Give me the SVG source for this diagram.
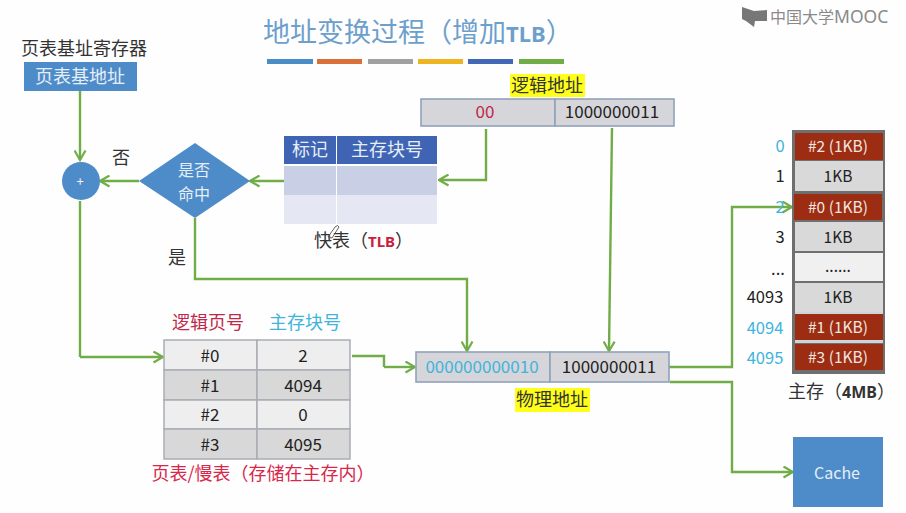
<svg xmlns="http://www.w3.org/2000/svg" width="906" height="513" viewBox="0 0 906 513">
<defs>
<marker id="arr" viewBox="0 0 13 13" refX="11.5" refY="6.5" markerWidth="13" markerHeight="13" markerUnits="userSpaceOnUse" orient="auto"><path d="M2 1 L11.5 6.5 L2 12" fill="none" stroke="#70ad47" stroke-width="2.2"/></marker>
</defs>
<style>
text{font-family:"Noto Sans CJK SC","Noto Sans","Liberation Sans",sans-serif;text-anchor:middle;fill:#222}
.cn{font-size:18px;font-family:"Noto Sans CJK SC",sans-serif;fill:#333}
.c{font-size:17px}
.m{font-size:15.5px}
.n{font-size:16.5px}
.red{fill:#c0274a}
.blue{fill:#3fb4dc}
.lt{fill:#e6eef7}
.wh{fill:#f2e6e0}
.conn{fill:none;stroke:#70ad47;stroke-width:2.4}
.a{marker-end:url(#arr)}
.cell{stroke:#a9adb4;stroke-width:1.5}
.addr{fill:#d5d5da;stroke:#8fa2bb;stroke-width:1.6}
.mem{fill:#d9d9d9}
.hit{fill:#9c2d12}
.bar{height:5px}
</style>
<rect width="906" height="513" fill="#fefefe"/>
<g id="title">
<text x="263" y="42" style="text-anchor:start;font-size:27px;fill:#6d9fcc">地址变换过程（增加<tspan font-weight="700" font-size="22" font-family="Noto Sans">TLB</tspan>）</text>
<rect class="bar" x="267" y="59" width="46" fill="#4a8cc5"/>
<rect class="bar" x="317" y="59" width="45" fill="#d9703a"/>
<rect class="bar" x="368" y="59" width="45" fill="#a0a0a0"/>
<rect class="bar" x="418" y="59" width="45" fill="#eeb422"/>
<rect class="bar" x="468" y="59" width="45" fill="#4468b8"/>
<rect class="bar" x="519" y="59" width="45" fill="#70ad47"/>
</g>
<g id="logo">
<path d="M742 7 L754 11 L767 10 L767 21 L755 21 L754 27 L746 21 L742 19 Z" fill="#777"/>
<text x="770" y="23" style="text-anchor:start;font-size:16px;fill:#8a8a8a">中国大学<tspan font-size="17.5" font-family="Noto Sans">MOOC</tspan></text>
</g>
<g id="connectors">
<path class="conn a" d="M80 91 V160"/>
<path class="conn" d="M80 201 V357"/>
<path class="conn a" d="M80 357 H163"/>
<path class="conn a" d="M139 181 H100"/>
<path class="conn a" d="M285 181 H250"/>
<path class="conn a" d="M486 129 V180 H439"/>
<path class="conn a" d="M195 218 V279 H467 V351"/>
<path class="conn a" d="M612 128 L609 351"/>
<path class="conn" d="M352 356 H384 V367"/>
<path class="conn a" d="M384 367 H415"/>
<path class="conn a" d="M669 367 H732 V207 H792"/>
<path class="conn a" d="M670 382 H732 V472 H793"/>
</g>
<g id="base-register">
<text class="cn" x="84" y="55">页表基址寄存器</text>
<rect x="24" y="62" width="113" height="29" fill="#4e8cc9"/>
<text class="cn lt" x="80" y="83">页表基地址</text>
</g>
<g id="adder">
<circle cx="81" cy="181" r="19" fill="#4e8cc9"/>
<text x="80" y="186" style="font-size:13px;fill:#f2f2f2">+</text>
</g>
<g id="hit-decision">
<path d="M139 181 L195 143 L250 181 L195 218 Z" fill="#4e8cc9"/>
<text class="cn lt" x="194" y="176" style="font-size:16px">是否</text>
<text class="cn lt" x="194" y="199.5" style="font-size:16px">命中</text>
<text class="cn" x="121" y="164">否</text>
<text class="cn" x="177" y="264">是</text>
</g>
<g id="tlb">
<rect x="284" y="136" width="52" height="28" fill="#3f64b4"/>
<rect x="337" y="136" width="100" height="28" fill="#3f64b4"/>
<text class="cn lt" x="310" y="156">标记</text>
<text class="cn lt" x="387" y="156">主存块号</text>
<rect x="284" y="166" width="52" height="29" fill="#c9cfe4"/>
<rect x="337" y="166" width="100" height="29" fill="#c9cfe4"/>
<rect x="284" y="195" width="52" height="29" fill="#e5e8f3"/>
<rect x="337" y="195" width="100" height="29" fill="#e5e8f3"/>
<text class="cn" x="314" y="247" style="text-anchor:start">快表（<tspan font-size="15" font-weight="700" fill="#c8203c" font-family="Noto Sans">TLB</tspan>）</text>
<path d="M328 237 L335 227 Q338 224 339 227 L332 238 Z" fill="none" stroke="#555" stroke-width="0.9"/>
</g>
<g id="logical-address">
<rect x="510" y="74" width="75" height="23" fill="#ffff1a"/>
<text class="cn" x="547" y="92">逻辑地址</text>
<rect class="addr" x="421" y="99" width="134" height="27"/>
<rect class="addr" x="555" y="99" width="119" height="27"/>
<text class="c red" x="485" y="118">00</text>
<text class="c" x="612" y="118">1000000011</text>
</g>
<g id="page-table">
<text class="cn red" x="208" y="329">逻辑页号</text>
<text class="cn blue" x="305" y="329">主存块号</text>
<rect class="cell" x="164" y="340" width="93" height="30" fill="#eeeeef"/>
<rect class="cell" x="257" y="340" width="93" height="30" fill="#eeeeef"/>
<rect class="cell" x="164" y="370" width="93" height="30" fill="#d8d8d8"/>
<rect class="cell" x="257" y="370" width="93" height="30" fill="#d8d8d8"/>
<rect class="cell" x="164" y="400" width="93" height="29" fill="#eeeeef"/>
<rect class="cell" x="257" y="400" width="93" height="29" fill="#eeeeef"/>
<rect class="cell" x="164" y="429" width="93" height="30" fill="#d8d8d8"/>
<rect class="cell" x="257" y="429" width="93" height="30" fill="#d8d8d8"/>
<g class="c"><text x="210" y="362">#0</text><text x="303" y="362">2</text><text x="210" y="392">#1</text><text x="303" y="392">4094</text><text x="210" y="421">#2</text><text x="303" y="421">0</text><text x="210" y="451">#3</text><text x="303" y="451">4095</text></g>
<text class="cn" x="263" y="480" style="fill:#d8274a">页表/慢表（存储在主存内）</text>
</g>
<g id="physical-address">
<rect class="addr" x="416" y="352" width="134" height="30"/>
<rect class="addr" x="550" y="352" width="119" height="30"/>
<text class="c blue" x="482" y="373">000000000010</text>
<text class="c" x="609" y="373">1000000011</text>
<rect x="515" y="388" width="75" height="24" fill="#ffff1a"/>
<text class="cn" x="552" y="406">物理地址</text>
</g>
<g id="main-memory">
<rect x="792" y="130" width="93" height="244" fill="#6f6f6f"/>
<rect class="hit" x="795" y="133" width="88" height="27"/>
<rect class="mem" x="795" y="161" width="88" height="30"/>
<rect class="hit" x="794" y="194" width="88" height="26"/>
<rect class="mem" x="795" y="222" width="88" height="29"/>
<rect x="795" y="253" width="88" height="28" fill="#f0f0f0"/>
<rect class="mem" x="795" y="283" width="88" height="29"/>
<rect x="795" y="312" width="88" height="31" fill="#d0d4da"/>
<rect class="hit" x="795" y="314" width="88" height="26"/>
<rect class="hit" x="795" y="344" width="88" height="26"/>
<g class="m">
<text class="wh" x="838" y="152">#2 (1KB)</text><text x="838" y="182">1KB</text><text class="wh" x="838" y="213">#0 (1KB)</text><text x="838" y="243">1KB</text><text x="838" y="272">......</text><text x="838" y="303">1KB</text><text class="wh" x="838" y="333">#1 (1KB)</text><text class="wh" x="838" y="363">#3 (1KB)</text>
</g>
<g class="n">
<text class="blue" x="780" y="152">0</text><text x="780" y="182">1</text><text class="blue" x="780" y="213">2</text><text x="780" y="243">3</text><text x="778" y="275">...</text><text x="765" y="303">4093</text><text class="blue" x="765" y="334">4094</text><text class="blue" x="765" y="364">4095</text>
</g>
<text class="cn" x="788" y="398" style="text-anchor:start">主存（<tspan font-size="16" font-weight="700" font-family="Noto Sans">4MB</tspan>）</text>
</g>
<g id="cache">
<rect x="793" y="437" width="90" height="70" fill="#4e8cc9"/>
<text x="837" y="479" style="font-size:16px;fill:#e6eef7">Cache</text>
</g>
</svg>
